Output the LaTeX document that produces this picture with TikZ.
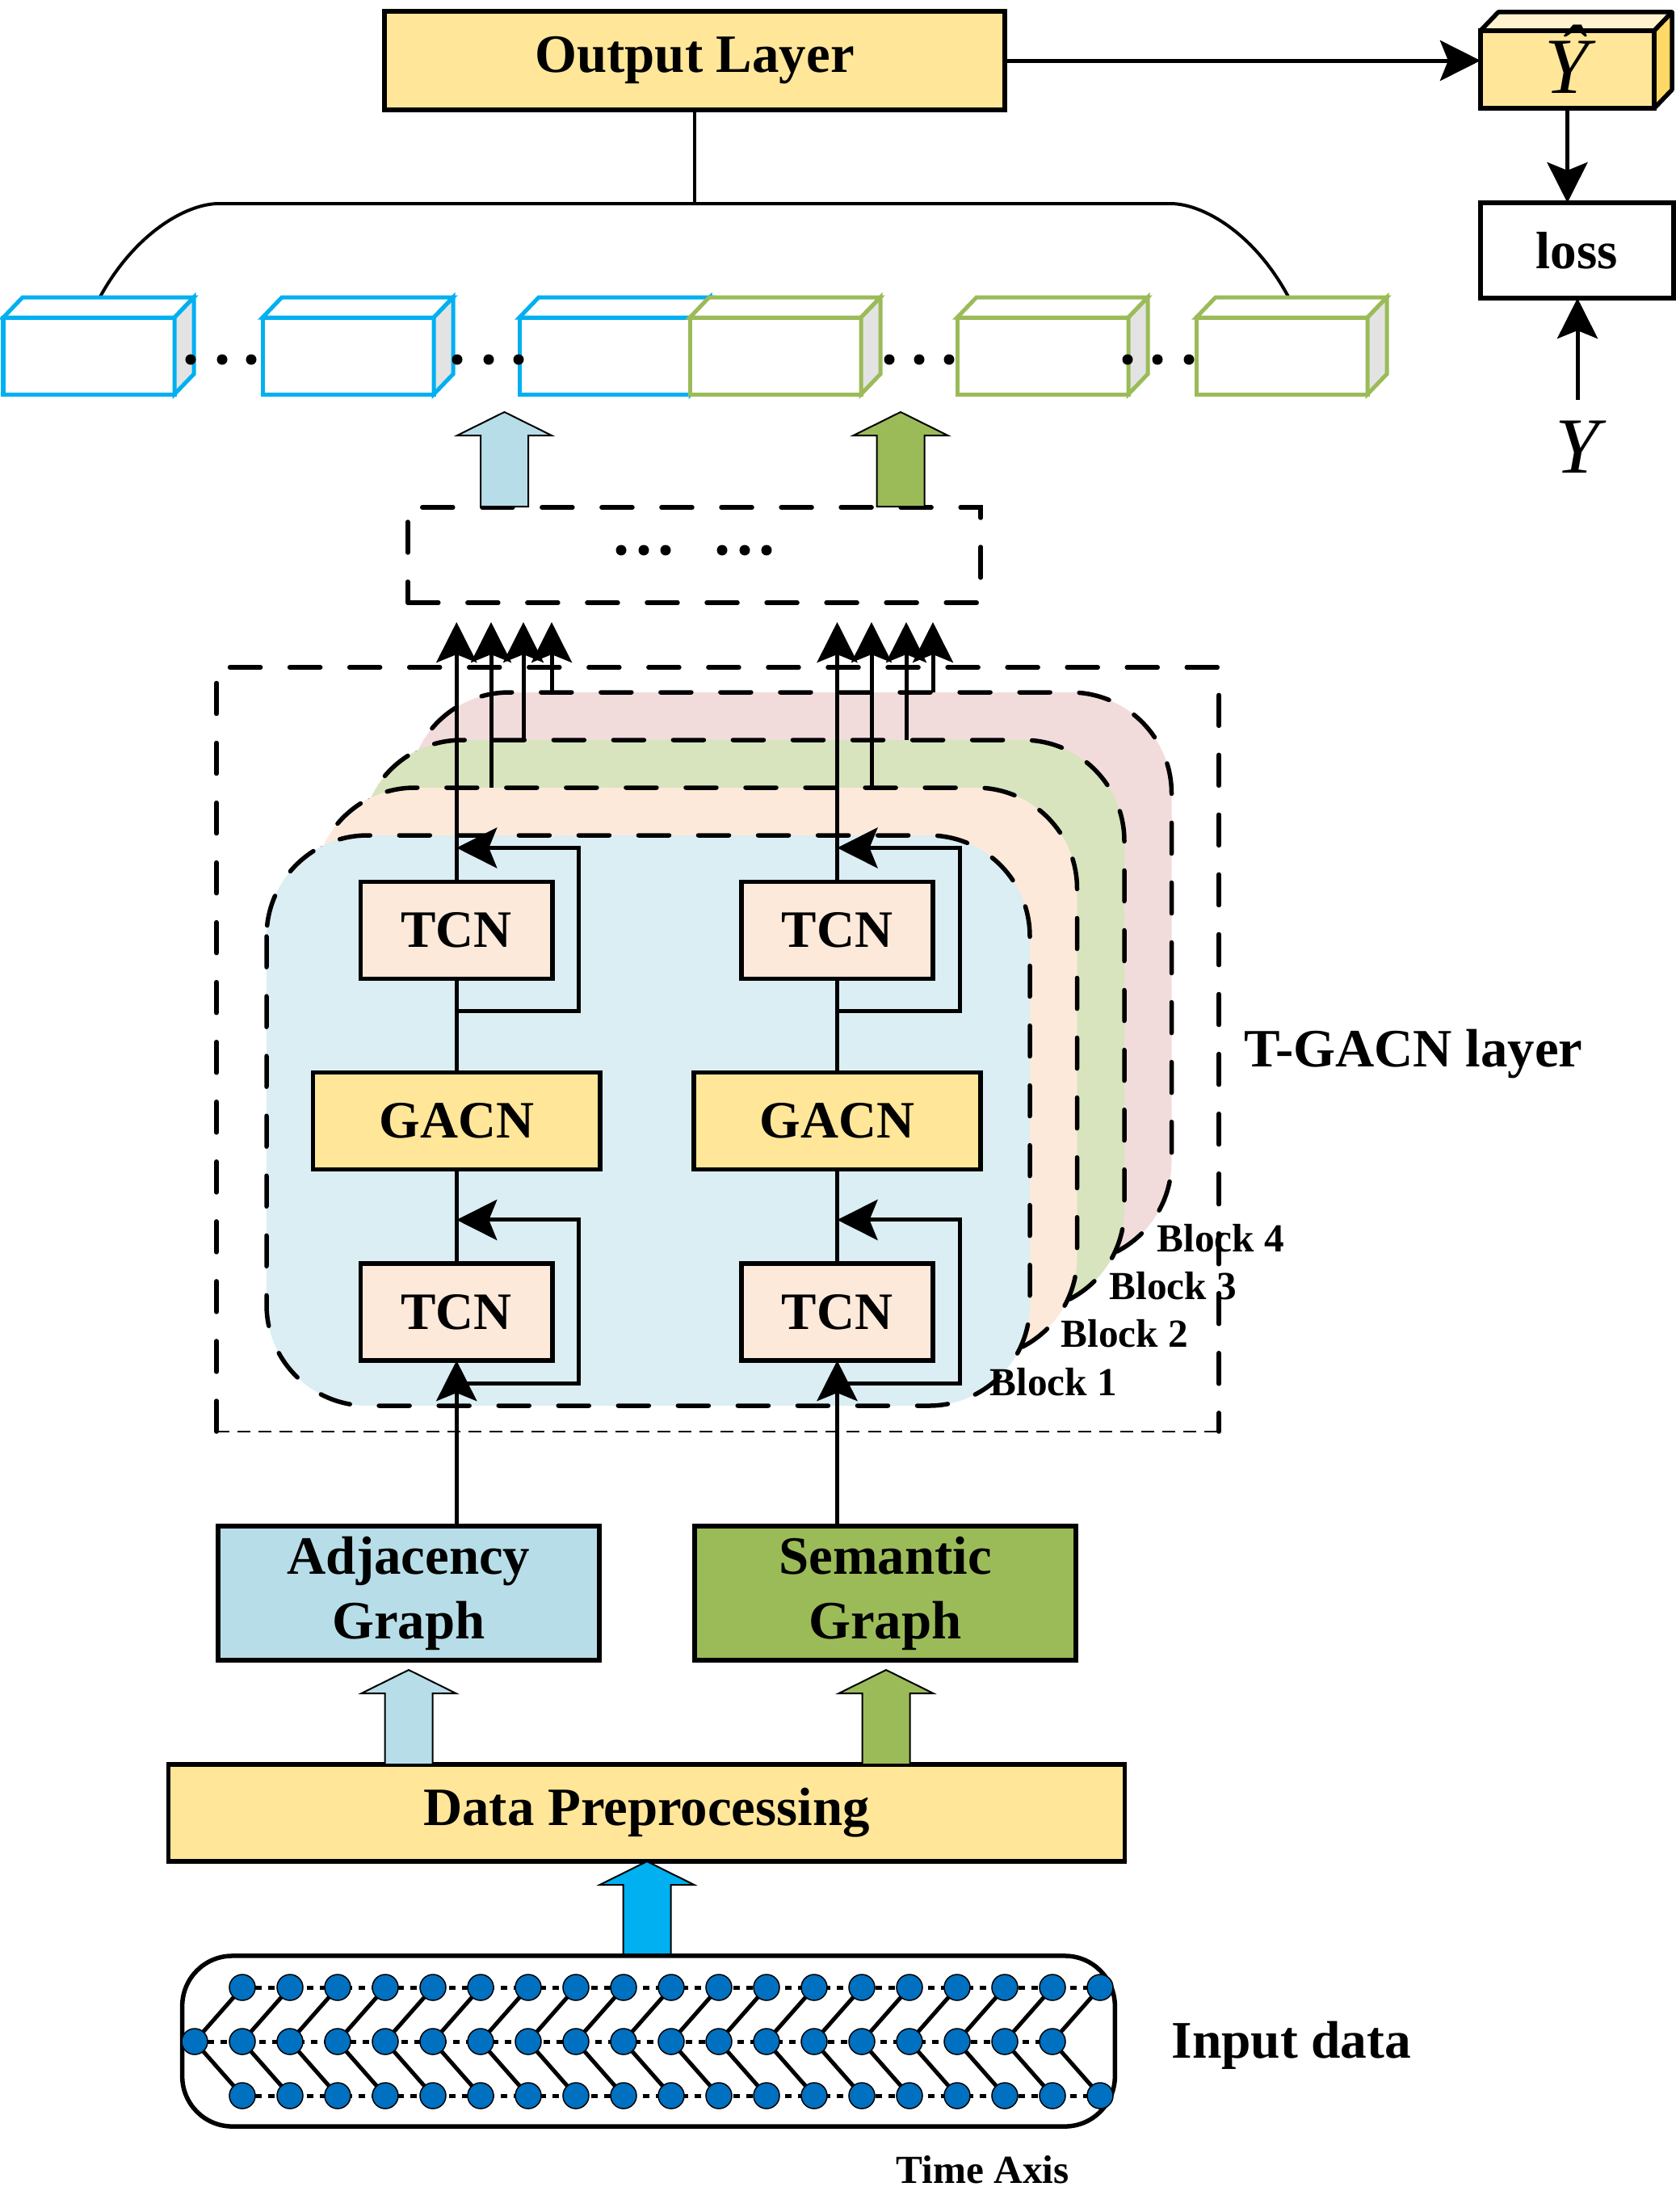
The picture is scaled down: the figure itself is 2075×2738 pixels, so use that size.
\documentclass[tikz,border=0pt]{standalone}
\usepackage{fontspec}
\setmainfont{Liberation Serif}
\usetikzlibrary{arrows.meta,calc}
\pgfdeclarelayer{bg}
\pgfsetlayers{bg,main}
\definecolor{yel}{HTML}{FFE699}
\definecolor{yeltop}{HTML}{FFF2CC}
\definecolor{yelside}{HTML}{FFD966}
\definecolor{peach}{HTML}{FCE9DA}
\definecolor{adjblue}{HTML}{B7DEE8}
\definecolor{semgreen}{HTML}{9BBB59}
\definecolor{cyanarr}{HTML}{00B0F0}
\definecolor{blkone}{HTML}{DAEEF3}
\definecolor{blktwo}{HTML}{FDE9D9}
\definecolor{blkthree}{HTML}{D7E4BD}
\definecolor{blkfour}{HTML}{F2DCDB}
\definecolor{nodeblue}{HTML}{0070C0}
\definecolor{sidegray}{HTML}{E3E3E3}
\newcommand{\fatup}[5]{\draw[line width=0.02cm, fill=#5, line join=miter] (#1-29.5,#2) -- (#1-29.5,#3) -- (#1-58.5,#3) -- (#1,#4) -- (#1+58.5,#3) -- (#1+29.5,#3) -- (#1+29.5,#2) -- cycle;}
\begin{document}
\begin{tikzpicture}[x=0.01cm,y=-0.01cm,
  >={Stealth[length=0.5cm,width=0.5cm,inset=0.1cm]},
  box/.style={draw, line width=0.055cm, inner sep=0pt, outer sep=0pt, align=center, font=\bfseries\fontsize{19}{22.8}\selectfont},
  tcnbox/.style={box, fill=peach, minimum width=2.37cm, minimum height=1.2cm, font=\bfseries\fontsize{18.5}{22}\selectfont},
  gacnbox/.style={box, fill=yel, minimum width=3.55cm, minimum height=1.2cm, font=\bfseries\fontsize{18.5}{22}\selectfont},
  conn/.style={line width=0.05cm},
  arr/.style={conn, ->},
  tdash/.style={line width=0.055cm, dash pattern=on 0.38cm off 0.36cm, line cap=round},
  blockshape/.style={tdash, rounded corners=1.25cm},
  cubeline/.style={line width=0.05cm, line join=miter},
  innode/.style={circle, draw=black, line width=0.015cm, fill=nodeblue, minimum size=0.32cm, inner sep=0pt, outer sep=0pt},
  rowdash/.style={line width=0.05cm, dash pattern=on 0.08cm off 0.08cm},
  blocklabel/.style={anchor=base west, inner sep=0pt, font=\bfseries\fontsize{14}{16}\selectfont},
  plainlabel/.style={anchor=base west, inner sep=0pt, font=\bfseries\fontsize{19}{22}\selectfont}
]
\useasboundingbox (0,0) rectangle (2075,2738);

% ---------- output part ----------
\node[box, fill=yel, minimum width=7.68cm, minimum height=1.22cm] (out) at (860,75) {Output Layer};
\coordinate (hub) at (860,252);
\draw[line width=0.04cm] (out.south) -- (hub);
\draw[line width=0.04cm] (122,371) .. controls (165,290) and (230,252) .. (271,252) -- (1449,252) .. controls (1490,252) and (1555,290) .. (1597,371);

% feature cubes
\foreach \x/\c in {4/cyanarr, 325/cyanarr, 643/cyanarr, 854/semgreen, 1185/semgreen, 1481/semgreen} {
  \draw[cubeline, draw=\c, fill=white] (\x,393) rectangle ++(212,95);
  \draw[cubeline, draw=\c, fill=white] (\x,393) -- ++(24,-25) -- ++(212,0) -- ++(-24,25) -- cycle;
  \draw[cubeline, draw=\c, fill=sidegray] (\x+212,393) -- ++(24,-25) -- ++(0,95) -- ++(-24,25) -- cycle;
}
\foreach \x in {236,275,311,566,605,642,1101,1138,1175,1396,1433,1472}
  \fill (\x,445) circle[radius=0.065cm];

% Y hat, loss, Y
\node[draw, line width=0.055cm, fill=yel, minimum width=2.15cm, minimum height=0.96cm, inner sep=0pt, outer sep=0pt] (yhat) at (1940.5,86) {};
\draw[line width=0.055cm, fill=yeltop, line join=round] (yhat.north west) -- ++(22,-23) -- ($(yhat.north east)+(22,-23)$) -- (yhat.north east) -- cycle;
\draw[line width=0.055cm, fill=yelside, line join=round] (yhat.north east) -- ++(22,-23) -- ($(yhat.south east)+(22,-23)$) -- (yhat.south east) -- cycle;
\node[anchor=base, inner sep=0pt, font=\itshape\fontsize{28}{28}\selectfont] (yhatlbl) at (1940,115) {Ŷ};
\node[box, fill=white, minimum width=2.39cm, minimum height=1.18cm, font=\bfseries\fontsize{18.5}{20}\selectfont] (loss) at (1952.5,310) {loss};
\node[anchor=base, inner sep=0pt, font=\itshape\fontsize{28}{28}\selectfont] (ylab) at (1953,585) {Y};
\draw[arr] (out.east) -- (out.east -| yhat.west);
\draw[arr] (yhat.south) -- (yhat.south |- loss.north);
\draw[arr] ($(ylab.north)+(0,-25)$) -- (ylab.north |- loss.south);

% fat arrows to the features and dashed summary box
\node[tdash, draw, minimum width=7.09cm, minimum height=1.18cm, inner sep=0pt] (dbox) at (859.5,687) {};
\fatup{624.5}{627}{539}{510}{adjblue}
\fatup{1115}{627}{539}{510}{semgreen}
\foreach \x in {769,797,824,894,922,949}
  \fill (\x,681) circle[radius=0.065cm];

% ---------- T-GACN blocks ----------
\foreach \k/\c in {3/blkfour, 2/blkthree, 1/blktwo, 0/blkone} {
  \draw[blockshape, fill=\c] ({330+58.5*\k},{1034-59*\k}) rectangle ({1275+58.5*\k},{1740-59*\k});
}

\node[tcnbox] (tcnTL) at (565.25,1151.5) {TCN};
\node[tcnbox] (tcnTR) at (1036.5,1151.5) {TCN};
\node[gacnbox] (gacnL) at (565.25,1387.5) {GACN};
\node[gacnbox] (gacnR) at (1036.5,1387.5) {GACN};
\node[tcnbox] (tcnBL) at (565.25,1624) {TCN};
\node[tcnbox] (tcnBR) at (1036.5,1624) {TCN};

\draw[conn] (tcnBL.north) -- (gacnL.south);
\draw[conn] (gacnL.north) -- (tcnTL.south);
\draw[conn] (tcnBR.north) -- (gacnR.south);
\draw[conn] (gacnR.north) -- (tcnTR.south);

% residual connections
\foreach \n in {tcnTL,tcnTR} {
  \draw[arr] ($(\n.south)+(0,40)$) -| ($(\n.east)+(33,0)$) |- ($(\n.north)+(0,-42)$);
}
\foreach \n in {tcnBL,tcnBR} {
  \draw[arr] ($(\n.south)+(0,28)$) -| ($(\n.east)+(33,0)$) |- ($(\n.north)+(0,-54)$);
}

% block outputs
\coordinate (tipy) at (0,770);
\draw[arr] (tcnTL.north) -- (tcnTL.north |- tipy);
\draw[arr] (608,975) -- (608,770);
\draw[arr] (648,916) -- (648,770);
\draw[arr] (683,857) -- (683,770);
\draw[arr] (tcnTR.north) -- (tcnTR.north |- tipy);
\draw[arr] (1079,975) -- (1079,770);
\draw[arr] (1122,916) -- (1122,770);
\draw[arr] (1155,857) -- (1155,770);

\node[blocklabel] (bl1) at (1225,1727) {Block 1};
\node[blocklabel] (bl2) at (1313,1667) {Block 2};
\node[blocklabel] (bl3) at (1373,1608) {Block 3};
\node[blocklabel] (bl4) at (1432,1549) {Block 4};

\draw[tdash] (268,1772) -- (268,826) -- (1509,826) -- (1509,1772);
\draw[line width=0.02cm, dash pattern=on 0.16cm off 0.1cm] (268,1772) -- (1509,1772);
\node[plainlabel] (tg) at (1540,1320) {T-GACN layer};

% ---------- graphs and preprocessing ----------
\node[box, fill=adjblue, minimum width=4.72cm, minimum height=1.66cm] (adj) at (506,1972) {Adjacency\\Graph};
\node[box, fill=semgreen, minimum width=4.72cm, minimum height=1.66cm] (sem) at (1096,1972) {Semantic\\Graph};
\draw[arr] (tcnBL.south |- adj.north) -- (tcnBL.south);
\draw[arr] (tcnBR.south |- sem.north) -- (tcnBR.south);

\node[box, fill=yel, minimum width=11.83cm, minimum height=1.2cm] (dp) at (800.5,2244) {Data Preprocessing};
\fatup{506}{2184}{2096}{2067}{adjblue}
\fatup{1097}{2184}{2096}{2067}{semgreen}
\fatup{801}{2419}{2333}{2304}{cyanarr}

% ---------- input data ----------
\node[draw, line width=0.055cm, rounded corners=0.62cm, minimum width=11.54cm, minimum height=2.11cm, inner sep=0pt] (inbox) at (803,2526.5) {};
\foreach \i in {0,...,18} {
  \node[innode] (t\i) at ({300+59*\i},2460) {};
  \node[innode] (m\i) at ({241+59*\i},2527) {};
  \node[innode] (b\i) at ({300+59*\i},2594) {};
}
\begin{pgfonlayer}{bg}
  \draw[rowdash] (t0.center) -- (t18.center);
  \draw[rowdash] (m0.center) -- (m18.center);
  \draw[rowdash] (b0.center) -- (b18.center);
  \foreach \i in {0,...,18} {
    \draw[line width=0.05cm] (m\i.center) -- (t\i.center);
    \draw[line width=0.05cm] (m\i.center) -- (b\i.center);
  }
\end{pgfonlayer}
\node[anchor=base west, inner sep=0pt, font=\bfseries\fontsize{18.6}{20}\selectfont] (indata) at (1450,2547) {Input data};
\node[anchor=base west, inner sep=0pt, font=\bfseries\fontsize{14}{16}\selectfont] (taxis) at (1109,2702) {Time Axis};
\end{tikzpicture}
\end{document}
